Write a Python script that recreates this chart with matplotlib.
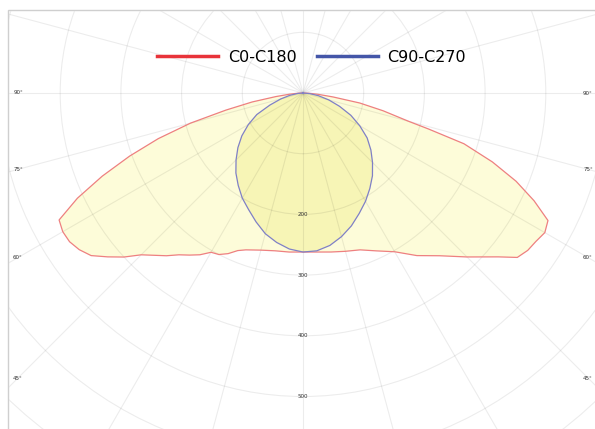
import numpy as np
import matplotlib
matplotlib.use("Agg")
import matplotlib.pyplot as plt
from matplotlib.lines import Line2D
from matplotlib.patches import Rectangle

# polar intensity curves, angle from nadir (deg), intensity (cd/klm)
ang_c0 = [0, 5, 10, 15, 20, 25, 30, 35, 40, 45, 50, 52.5, 55, 57.5, 60, 62.5,
          65, 67.5, 70, 72.5, 74, 75, 77.5, 80, 82.5, 85, 87.5, 90]
val_c0 = [262, 263, 266, 270, 275, 287, 302, 327, 350, 382, 420, 445, 452, 455,
          460, 455, 420, 380, 332, 278, 215, 180, 135, 95, 50, 25, 10, 0]

ang_c180 = [0, 5, 10, 15, 20, 22.5, 25, 27.5, 30, 32.5, 35, 37.5, 40, 45, 47.5,
            50, 52.5, 55, 57.5, 60, 62.5, 65, 67.5, 70, 72.5, 75, 77.5, 80,
            82.5, 85, 87.5, 90]
val_c180 = [262, 263, 264, 268, 275, 281, 292, 300, 303, 316, 326, 336, 350,
            377, 400, 420, 440, 450, 456, 457, 453, 410, 358, 304, 250, 192,
            130, 85, 45, 22, 8, 0]

ang_c90 = [0, 5, 10, 15, 20, 25, 30, 35, 40, 45, 50, 55, 60, 65, 70, 75, 80, 85, 90]
val_c90 = [262, 261, 255, 245, 233, 219, 206, 192, 178, 162, 146, 129, 108, 87,
           64, 44, 26, 11, 0]
val_c270 = [262, 258, 250, 240, 226, 212, 200, 186, 172, 156, 140, 123, 104, 84,
            58, 38, 22, 9, 0]

series_names = ["C0-C180", "C90-C270"]
ring_values = [100, 200, 300, 400, 500, 600, 700, 800]
ring_labels = [200, 300, 400, 500]
angle_labels = [90, 75, 60, 45]

W, H = 595, 429
cx, cy = 303, 93          # lamp position in pixels from top-left
px_per_unit = 0.607
rmax = 800

fig = plt.figure(figsize=(W / 100, H / 100), dpi=100)
R = rmax * px_per_unit
ax = fig.add_axes([(cx - R) / W, (H - cy - R) / H, 2 * R / W, 2 * R / H],
                  projection="polar")
ax.set_theta_zero_location("S")
ax.set_theta_direction(1)
ax.set_ylim(0, rmax)
ax.set_yticks(ring_values)
ax.set_yticklabels([])
ax.set_xticks(np.radians(np.arange(0, 360, 15)))
ax.set_xticklabels([])
ax.grid(True, color="#000000", alpha=0.075, lw=0.8)
ax.spines["polar"].set_visible(False)


def contour(ang_right, val_right, ang_left, val_left):
    th = np.concatenate([-np.radians(ang_left[::-1]), np.radians(ang_right)])
    r = np.concatenate([val_left[::-1], val_right])
    return th, r


th1, r1 = contour(ang_c0, np.array(val_c0), ang_c180, np.array(val_c180))
th2, r2 = contour(ang_c90, np.array(val_c90), ang_c90, np.array(val_c270))

ax.fill(th1, r1, facecolor="#fdfcd9", edgecolor="none", zorder=1)
ax.fill(th2, r2, facecolor="#f7f5b6", edgecolor="none", zorder=1)
ax.plot(th1, r1, color="#ee8080", lw=0.9, zorder=3)
ax.plot(th2, r2, color="#7f80c6", lw=0.9, zorder=3)

for v in ring_labels:
    ax.text(0, v, str(v), ha="center", va="center", fontsize=4, color="#333333")

edge_dist = 285 / px_per_unit
for a in angle_labels:
    rr = edge_dist / np.sin(np.radians(a))
    for s in (-1, 1):
        ax.text(s * np.radians(a), rr, f"{a}°", ha="center", va="center",
                fontsize=4, color="#333333")

# white margin and light frame
fig.add_artist(Rectangle((0, 0), 8 / W, 1, transform=fig.transFigure,
                         color="white", zorder=10))
fig.add_artist(Rectangle((0, (H - 10) / H), 1, 10 / H, transform=fig.transFigure,
                         color="white", zorder=10))
fig.add_artist(Rectangle((8 / W, -0.01), 1.1, (H - 10) / H + 0.01,
                         transform=fig.transFigure, fill=False,
                         ec="#cfcfcf", lw=1, zorder=11))

handles = [Line2D([], [], color="#e8333a", lw=2.5),
           Line2D([], [], color="#4456a8", lw=2.5)]
fig.legend(handles, series_names, loc="center", bbox_to_anchor=(0.524, 0.867),
           ncol=2, frameon=False, fontsize=11.5, handlelength=3.8,
           handletextpad=0.6, columnspacing=1.3)

fig.savefig("out.png", dpi=100)
